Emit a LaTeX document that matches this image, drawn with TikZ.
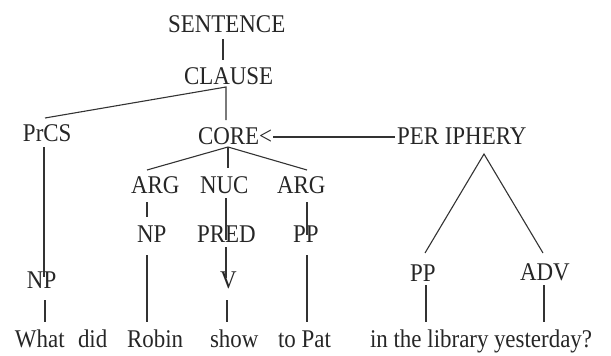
\documentclass[tikz,border=0pt]{standalone}
\usepackage{fontspec}
\setmainfont[FakeStretch=0.9]{Liberation Serif}
\begin{document}
\begin{tikzpicture}[x=1pt,y=-1pt,
  lab/.style={anchor=base west,inner sep=0pt,outer sep=0pt,font=\fontsize{25.5}{30}\selectfont,text=black!85},
  br/.style={draw=black!80,line width=1.1pt}]
\useasboundingbox (0,0) rectangle (611,356);
% labels
\node[lab] (sent) at (168,32) {SENTENCE};
\node[lab] (clause) at (184,84) {CLAUSE};
\node[lab] (prcs) at (23,141) {PrCS};
\node[lab] (core) at (198,144) {CORE<};
\node[lab] (peri) at (397,144) {PER IPHERY};
\node[lab] (argl) at (131,193) {ARG};
\node[lab] (nuc) at (200,193) {NUC};
\node[lab] (argr) at (277,193) {ARG};
\node[lab] (npm) at (137,242) {NP};
\node[lab] (pred) at (197,242) {PRED};
\node[lab] (ppm) at (293,242) {PP};
\node[lab] (npl) at (27,288) {NP};
\node[lab] (v) at (220,288) {V};
\node[lab] (ppr) at (410,281) {PP};
\node[lab] (adv) at (520,280) {ADV};
\node[lab] (what) at (15,347) {What};
\node[lab] (did) at (78,347) {did};
\node[lab] (robin) at (127,347) {Robin};
\node[lab] (show) at (210,347) {show};
\node[lab] (topat) at (278,347) {to Pat};
\node[lab] (lib) at (370,347) {in the library};
\node[lab] (yest) at (494,347) {yesterday?};
% connector end points
\coordinate (s1) at (223,39);  \coordinate (c0) at (223,60);
\coordinate (ca) at (226,87);  \coordinate (p0) at (45,118); \coordinate (co0) at (226,120);
\coordinate (cl) at (273,137); \coordinate (pe) at (395,137);
\coordinate (pa) at (484,154); \coordinate (ppr0) at (425,253); \coordinate (adv0) at (543,253);
\coordinate (cra) at (228,147); \coordinate (al0) at (147,170); \coordinate (n0) at (228,168); \coordinate (ar0) at (307,170);
\coordinate (al1) at (147,202); \coordinate (np0) at (147,217);
\coordinate (n1) at (226,198); \coordinate (pr0) at (226,240);
\coordinate (ar1) at (307,202); \coordinate (pm0) at (307,235);
\coordinate (np1) at (147,255); \coordinate (rb0) at (147,322);
\coordinate (pr1) at (226,247); \coordinate (v0) at (226,278);
\coordinate (v1) at (227,300); \coordinate (sh0) at (227,322);
\coordinate (p1) at (44,147); \coordinate (nl0) at (44,277);
\coordinate (nl1) at (45,300); \coordinate (wh0) at (45,322);
\coordinate (pm1) at (307,255); \coordinate (tp0) at (307,322);
\coordinate (pr2) at (426,285); \coordinate (lb0) at (426,322);
\coordinate (ad1) at (544,285); \coordinate (ye0) at (544,322);
% connectors
\draw[br] (s1) -- (c0);
\draw[br] (p0) -- (ca) -- (co0);
\draw[br] (cl) -- (pe);
\draw[br] (ppr0) -- (pa) -- (adv0);
\draw[br] (al0) -- (cra) -- (ar0);
\draw[br] (cra) -- (n0);
\draw[br] (al1) -- (np0);
\draw[br] (n1) -- (pr0);
\draw[br] (ar1) -- (pm0);
\draw[br] (np1) -- (rb0);
\draw[br] (pr1) -- (v0);
\draw[br] (v1) -- (sh0);
\draw[br] (p1) -- (nl0);
\draw[br] (nl1) -- (wh0);
\draw[br] (pm1) -- (tp0);
\draw[br] (pr2) -- (lb0);
\draw[br] (ad1) -- (ye0);
\end{tikzpicture}
\end{document}
